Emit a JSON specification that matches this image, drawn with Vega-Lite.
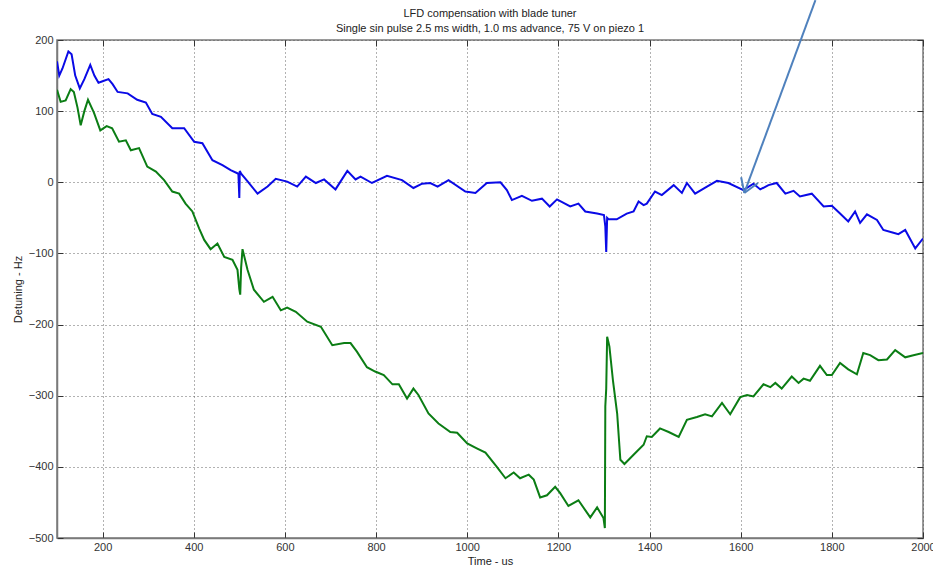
{
  "$schema": "https://vega.github.io/schema/vega-lite/v6.json",
  "width": 866,
  "height": 498,
  "autosize": {"type": "none"},
  "padding": {"left": 57, "top": 40, "right": 10, "bottom": 30},
  "background": "white",
  "config": {
    "font": "Liberation Sans",
    "view": {"stroke": "#7a7a7a", "strokeWidth": 1.5},
    "axis": {
      "labelFont": "Liberation Sans",
      "labelFontSize": 11,
      "labelColor": "#333333",
      "titleFont": "Liberation Sans",
      "titleFontSize": 11,
      "titleFontWeight": "normal",
      "titleColor": "#222222",
      "domainColor": "#7a7a7a",
      "domainWidth": 1.5,
      "tickColor": "#333333",
      "tickSize": -6,
      "tickWidth": 1,
      "gridColor": "#555555",
      "gridDash": [1, 3],
      "gridOpacity": 0.9,
      "gridWidth": 1
    }
  },
  "title": {
    "text": "LFD compensation with blade tuner",
    "subtitle": "Single sin pulse 2.5 ms width, 1.0 ms advance, 75 V on piezo 1",
    "fontSize": 11,
    "fontWeight": "normal",
    "color": "#222222",
    "subtitleFontSize": 11,
    "subtitleColor": "#222222",
    "subtitlePadding": 4,
    "anchor": "middle",
    "frame": "group",
    "offset": -35,
    "font": "Liberation Sans",
    "subtitleFont": "Liberation Sans"
  },
  "datasets": {
    "series": [
      {"s": "blue", "t": 100, "hz": 170}, {"s": "blue", "t": 105, "hz": 150}, {"s": "blue", "t": 112, "hz": 160}, {"s": "blue", "t": 125, "hz": 184}, {"s": "blue", "t": 132, "hz": 180}, {"s": "blue", "t": 140, "hz": 150}, {"s": "blue", "t": 150, "hz": 132}, {"s": "blue", "t": 160, "hz": 145}, {"s": "blue", "t": 173, "hz": 165}, {"s": "blue", "t": 182, "hz": 150}, {"s": "blue", "t": 191, "hz": 140}, {"s": "blue", "t": 200, "hz": 142}, {"s": "blue", "t": 213, "hz": 145}, {"s": "blue", "t": 222, "hz": 138}, {"s": "blue", "t": 233, "hz": 127}, {"s": "blue", "t": 255, "hz": 125}, {"s": "blue", "t": 276, "hz": 116}, {"s": "blue", "t": 295, "hz": 112}, {"s": "blue", "t": 309, "hz": 96}, {"s": "blue", "t": 328, "hz": 92}, {"s": "blue", "t": 353, "hz": 76}, {"s": "blue", "t": 379, "hz": 76}, {"s": "blue", "t": 401, "hz": 57}, {"s": "blue", "t": 419, "hz": 55}, {"s": "blue", "t": 441, "hz": 31}, {"s": "blue", "t": 463, "hz": 24}, {"s": "blue", "t": 481, "hz": 17}, {"s": "blue", "t": 498, "hz": 12}, {"s": "blue", "t": 500, "hz": -22}, {"s": "blue", "t": 501, "hz": 16}, {"s": "blue", "t": 504, "hz": 12}, {"s": "blue", "t": 520, "hz": 0}, {"s": "blue", "t": 540, "hz": -16}, {"s": "blue", "t": 562, "hz": -6}, {"s": "blue", "t": 580, "hz": 5}, {"s": "blue", "t": 605, "hz": 1}, {"s": "blue", "t": 627, "hz": -6}, {"s": "blue", "t": 646, "hz": 8}, {"s": "blue", "t": 668, "hz": -1}, {"s": "blue", "t": 686, "hz": 4}, {"s": "blue", "t": 711, "hz": -10}, {"s": "blue", "t": 737, "hz": 16}, {"s": "blue", "t": 755, "hz": 4}, {"s": "blue", "t": 766, "hz": 8}, {"s": "blue", "t": 791, "hz": -1}, {"s": "blue", "t": 824, "hz": 9}, {"s": "blue", "t": 857, "hz": 3}, {"s": "blue", "t": 882, "hz": -8}, {"s": "blue", "t": 901, "hz": -2}, {"s": "blue", "t": 919, "hz": -1}, {"s": "blue", "t": 935, "hz": -6}, {"s": "blue", "t": 959, "hz": 3}, {"s": "blue", "t": 996, "hz": -13}, {"s": "blue", "t": 1018, "hz": -15}, {"s": "blue", "t": 1043, "hz": -1}, {"s": "blue", "t": 1073, "hz": 0}, {"s": "blue", "t": 1087, "hz": -11}, {"s": "blue", "t": 1098, "hz": -25}, {"s": "blue", "t": 1120, "hz": -19}, {"s": "blue", "t": 1142, "hz": -26}, {"s": "blue", "t": 1164, "hz": -23}, {"s": "blue", "t": 1181, "hz": -34}, {"s": "blue", "t": 1197, "hz": -24}, {"s": "blue", "t": 1226, "hz": -34}, {"s": "blue", "t": 1244, "hz": -30}, {"s": "blue", "t": 1259, "hz": -41}, {"s": "blue", "t": 1285, "hz": -44}, {"s": "blue", "t": 1300, "hz": -46}, {"s": "blue", "t": 1303, "hz": -62}, {"s": "blue", "t": 1305, "hz": -98}, {"s": "blue", "t": 1307, "hz": -50}, {"s": "blue", "t": 1310, "hz": -52}, {"s": "blue", "t": 1328, "hz": -52}, {"s": "blue", "t": 1350, "hz": -44}, {"s": "blue", "t": 1365, "hz": -41}, {"s": "blue", "t": 1376, "hz": -27}, {"s": "blue", "t": 1387, "hz": -32}, {"s": "blue", "t": 1394, "hz": -30}, {"s": "blue", "t": 1412, "hz": -13}, {"s": "blue", "t": 1427, "hz": -18}, {"s": "blue", "t": 1453, "hz": -4}, {"s": "blue", "t": 1471, "hz": -15}, {"s": "blue", "t": 1482, "hz": -1}, {"s": "blue", "t": 1500, "hz": -16}, {"s": "blue", "t": 1526, "hz": -6}, {"s": "blue", "t": 1548, "hz": 2}, {"s": "blue", "t": 1573, "hz": -1}, {"s": "blue", "t": 1606, "hz": -11}, {"s": "blue", "t": 1628, "hz": -2}, {"s": "blue", "t": 1643, "hz": -10}, {"s": "blue", "t": 1661, "hz": -4}, {"s": "blue", "t": 1679, "hz": -1}, {"s": "blue", "t": 1698, "hz": -16}, {"s": "blue", "t": 1716, "hz": -12}, {"s": "blue", "t": 1730, "hz": -20}, {"s": "blue", "t": 1756, "hz": -16}, {"s": "blue", "t": 1782, "hz": -34}, {"s": "blue", "t": 1800, "hz": -33}, {"s": "blue", "t": 1818, "hz": -44}, {"s": "blue", "t": 1836, "hz": -55}, {"s": "blue", "t": 1851, "hz": -41}, {"s": "blue", "t": 1862, "hz": -57}, {"s": "blue", "t": 1877, "hz": -45}, {"s": "blue", "t": 1899, "hz": -53}, {"s": "blue", "t": 1913, "hz": -67}, {"s": "blue", "t": 1935, "hz": -71}, {"s": "blue", "t": 1946, "hz": -73}, {"s": "blue", "t": 1961, "hz": -67}, {"s": "blue", "t": 1983, "hz": -93}, {"s": "blue", "t": 2000, "hz": -79},
      {"s": "green", "t": 100, "hz": 130}, {"s": "green", "t": 108, "hz": 113}, {"s": "green", "t": 119, "hz": 115}, {"s": "green", "t": 130, "hz": 131}, {"s": "green", "t": 137, "hz": 127}, {"s": "green", "t": 145, "hz": 105}, {"s": "green", "t": 152, "hz": 80}, {"s": "green", "t": 160, "hz": 100}, {"s": "green", "t": 168, "hz": 116}, {"s": "green", "t": 181, "hz": 98}, {"s": "green", "t": 195, "hz": 73}, {"s": "green", "t": 209, "hz": 79}, {"s": "green", "t": 221, "hz": 76}, {"s": "green", "t": 236, "hz": 57}, {"s": "green", "t": 251, "hz": 59}, {"s": "green", "t": 262, "hz": 45}, {"s": "green", "t": 280, "hz": 48}, {"s": "green", "t": 298, "hz": 22}, {"s": "green", "t": 317, "hz": 15}, {"s": "green", "t": 335, "hz": 3}, {"s": "green", "t": 353, "hz": -13}, {"s": "green", "t": 368, "hz": -16}, {"s": "green", "t": 382, "hz": -30}, {"s": "green", "t": 397, "hz": -41}, {"s": "green", "t": 412, "hz": -65}, {"s": "green", "t": 423, "hz": -81}, {"s": "green", "t": 437, "hz": -94}, {"s": "green", "t": 452, "hz": -86}, {"s": "green", "t": 467, "hz": -105}, {"s": "green", "t": 485, "hz": -109}, {"s": "green", "t": 496, "hz": -123}, {"s": "green", "t": 500, "hz": -150}, {"s": "green", "t": 502, "hz": -158}, {"s": "green", "t": 504, "hz": -120}, {"s": "green", "t": 507, "hz": -94}, {"s": "green", "t": 518, "hz": -123}, {"s": "green", "t": 532, "hz": -151}, {"s": "green", "t": 554, "hz": -168}, {"s": "green", "t": 573, "hz": -161}, {"s": "green", "t": 591, "hz": -180}, {"s": "green", "t": 605, "hz": -176}, {"s": "green", "t": 624, "hz": -182}, {"s": "green", "t": 649, "hz": -196}, {"s": "green", "t": 679, "hz": -203}, {"s": "green", "t": 704, "hz": -229}, {"s": "green", "t": 730, "hz": -226}, {"s": "green", "t": 744, "hz": -226}, {"s": "green", "t": 758, "hz": -238}, {"s": "green", "t": 780, "hz": -260}, {"s": "green", "t": 798, "hz": -266}, {"s": "green", "t": 817, "hz": -271}, {"s": "green", "t": 836, "hz": -284}, {"s": "green", "t": 850, "hz": -284}, {"s": "green", "t": 868, "hz": -304}, {"s": "green", "t": 882, "hz": -290}, {"s": "green", "t": 893, "hz": -299}, {"s": "green", "t": 915, "hz": -325}, {"s": "green", "t": 937, "hz": -339}, {"s": "green", "t": 963, "hz": -351}, {"s": "green", "t": 978, "hz": -352}, {"s": "green", "t": 1000, "hz": -367}, {"s": "green", "t": 1021, "hz": -374}, {"s": "green", "t": 1040, "hz": -380}, {"s": "green", "t": 1065, "hz": -400}, {"s": "green", "t": 1084, "hz": -416}, {"s": "green", "t": 1102, "hz": -408}, {"s": "green", "t": 1116, "hz": -416}, {"s": "green", "t": 1135, "hz": -411}, {"s": "green", "t": 1146, "hz": -418}, {"s": "green", "t": 1160, "hz": -443}, {"s": "green", "t": 1175, "hz": -440}, {"s": "green", "t": 1193, "hz": -428}, {"s": "green", "t": 1204, "hz": -437}, {"s": "green", "t": 1222, "hz": -455}, {"s": "green", "t": 1244, "hz": -447}, {"s": "green", "t": 1270, "hz": -471}, {"s": "green", "t": 1285, "hz": -457}, {"s": "green", "t": 1299, "hz": -472}, {"s": "green", "t": 1302, "hz": -486}, {"s": "green", "t": 1303, "hz": -315}, {"s": "green", "t": 1305, "hz": -290}, {"s": "green", "t": 1307, "hz": -217}, {"s": "green", "t": 1310, "hz": -225}, {"s": "green", "t": 1312, "hz": -231}, {"s": "green", "t": 1320, "hz": -280}, {"s": "green", "t": 1329, "hz": -325}, {"s": "green", "t": 1336, "hz": -390}, {"s": "green", "t": 1345, "hz": -396}, {"s": "green", "t": 1365, "hz": -383}, {"s": "green", "t": 1387, "hz": -369}, {"s": "green", "t": 1394, "hz": -357}, {"s": "green", "t": 1405, "hz": -358}, {"s": "green", "t": 1423, "hz": -346}, {"s": "green", "t": 1442, "hz": -351}, {"s": "green", "t": 1464, "hz": -358}, {"s": "green", "t": 1482, "hz": -334}, {"s": "green", "t": 1504, "hz": -330}, {"s": "green", "t": 1522, "hz": -326}, {"s": "green", "t": 1537, "hz": -329}, {"s": "green", "t": 1559, "hz": -310}, {"s": "green", "t": 1577, "hz": -326}, {"s": "green", "t": 1599, "hz": -302}, {"s": "green", "t": 1614, "hz": -299}, {"s": "green", "t": 1628, "hz": -301}, {"s": "green", "t": 1650, "hz": -284}, {"s": "green", "t": 1665, "hz": -288}, {"s": "green", "t": 1676, "hz": -282}, {"s": "green", "t": 1690, "hz": -290}, {"s": "green", "t": 1712, "hz": -273}, {"s": "green", "t": 1727, "hz": -282}, {"s": "green", "t": 1738, "hz": -276}, {"s": "green", "t": 1752, "hz": -279}, {"s": "green", "t": 1774, "hz": -258}, {"s": "green", "t": 1789, "hz": -271}, {"s": "green", "t": 1800, "hz": -271}, {"s": "green", "t": 1818, "hz": -254}, {"s": "green", "t": 1836, "hz": -263}, {"s": "green", "t": 1855, "hz": -270}, {"s": "green", "t": 1869, "hz": -240}, {"s": "green", "t": 1884, "hz": -243}, {"s": "green", "t": 1902, "hz": -250}, {"s": "green", "t": 1921, "hz": -249}, {"s": "green", "t": 1939, "hz": -236}, {"s": "green", "t": 1961, "hz": -246}, {"s": "green", "t": 1979, "hz": -243}, {"s": "green", "t": 2000, "hz": -240}
    ],
    "arrow": [
      {"t": 1764, "hz": 256, "t2": 1608, "hz2": -15},
      {"t": 1601, "hz": 7, "t2": 1608, "hz2": -15},
      {"t": 1638, "hz": -1, "t2": 1608, "hz2": -15}
    ]
  },
  "layer": [
    {
      "data": {"name": "series"},
      "mark": {"type": "line", "strokeWidth": 2, "clip": true},
      "encoding": {
        "x": {
          "field": "t", "type": "quantitative",
          "scale": {"domain": [100, 2000], "nice": false, "zero": false},
          "axis": {"title": "Time - us", "format": "d", "values": [200, 400, 600, 800, 1000, 1200, 1400, 1600, 1800, 2000], "grid": true, "labelPadding": 9, "titlePadding": 3, "labelFlush": false}
        },
        "y": {
          "field": "hz", "type": "quantitative",
          "scale": {"domain": [-500, 200], "nice": false, "zero": false},
          "axis": {"title": "Detuning - Hz", "format": "d", "values": [-500, -400, -300, -200, -100, 0, 100, 200], "grid": true, "labelPadding": 10, "titlePadding": 5}
        },
        "color": {
          "field": "s", "type": "nominal",
          "scale": {"domain": ["blue", "green"], "range": ["#0a0ae6", "#0b7d14"]},
          "legend": null
        },
        "detail": {"field": "s"}
      }
    },
    {
      "data": {"name": "arrow"},
      "mark": {"type": "rule", "color": "#4f81bd", "strokeWidth": 2, "clip": false},
      "encoding": {
        "x": {"field": "t", "type": "quantitative", "axis": {"orient": "top", "labels": false, "title": null, "grid": false, "domain": false, "values": [200, 400, 600, 800, 1000, 1200, 1400, 1600, 1800, 2000]}},
        "y": {"field": "hz", "type": "quantitative", "axis": {"orient": "right", "labels": false, "title": null, "grid": false, "domain": false, "values": [-500, -400, -300, -200, -100, 0, 100, 200]}},
        "x2": {"field": "t2"},
        "y2": {"field": "hz2"}
      }
    }
  ],
  "resolve": {"axis": {"x": "independent", "y": "independent"}}
}
